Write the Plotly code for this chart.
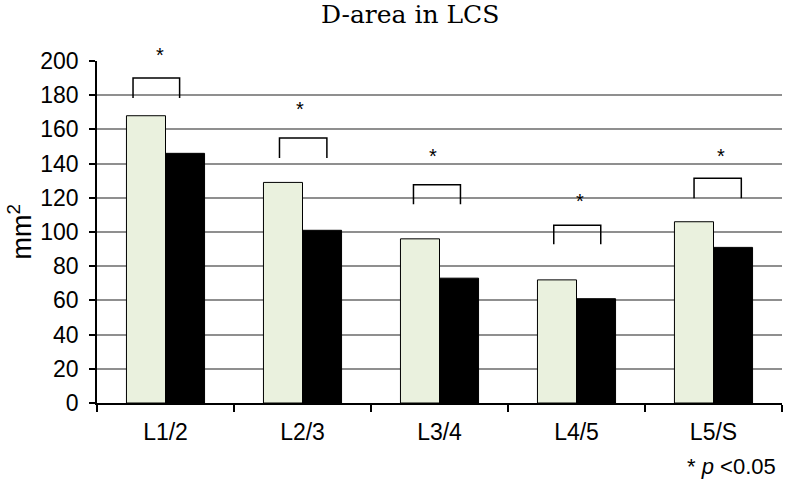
import plotly.graph_objects as go

categories = ["L1/2", "L2/3", "L3/4", "L4/5", "L5/S"]
group_a = [168, 129, 96, 72, 106]
group_b = [146, 101, 73, 61, 91]
y_ticks = [0, 20, 40, 60, 80, 100, 120, 140, 160, 180, 200]
y_max = 200

# significance brackets (category-index units / value units)
bracket_left = [-0.237, 0.832, 1.810, 2.834, 3.858]
bracket_right = [0.103, 1.178, 2.153, 3.177, 4.203]
bracket_top = [190, 155, 127.7, 104, 131.4]
bracket_foot = [178.4, 143.3, 116.2, 92.8, 119.7]
star_x = [-0.038, 0.983, 1.956, 3.028, 4.055]
star_y = [205.8, 174, 147, 120.5, 147]

fig = go.Figure()
fig.add_trace(go.Bar(x=categories, y=group_a, marker=dict(color="#EAF1DE", line=dict(color="black", width=1)), showlegend=False))
fig.add_trace(go.Bar(x=categories, y=group_b, marker=dict(color="black", line=dict(color="black", width=1)), showlegend=False))

for xl, xr, yt, yf in zip(bracket_left, bracket_right, bracket_top, bracket_foot):
    fig.add_shape(type="path", xref="x", yref="y",
                  path=f"M {xl},{yf} L {xl},{yt} L {xr},{yt} L {xr},{yf}",
                  line=dict(color="black", width=1.5), layer="above")

for sx, sy in zip(star_x, star_y):
    fig.add_annotation(x=sx, y=sy / y_max, xref="x", yref="paper", text="*", showarrow=False,
                       font=dict(family="Liberation Sans", size=20, color="black"),
                       yanchor="middle", yshift=-4)

fig.add_annotation(x=0.457, y=(403 - 15) / 342, xref="paper", yref="paper", text="D-area in LCS",
                   showarrow=False, font=dict(family="DejaVu Serif", size=25, color="black"),
                   xanchor="center", yanchor="middle")
fig.add_annotation(x=-0.113, y=0.5, xref="paper", yref="paper", text="mm<sup>2</sup>", textangle=-90,
                   showarrow=False, font=dict(family="Liberation Sans", size=27, color="black"),
                   xanchor="center", yanchor="middle")
fig.add_annotation(x=0.994, y=-0.186, xref="paper", yref="paper", text="* <i>p</i> <0.05",
                   showarrow=False, font=dict(family="Liberation Sans", size=22, color="black"),
                   xanchor="right", yanchor="middle")

fig.update_layout(
    width=786, height=482,
    margin=dict(l=97, r=4, t=61, b=79),
    paper_bgcolor="white", plot_bgcolor="white",
    barmode="group", bargap=0.43, bargroupgap=0,
    font=dict(family="Liberation Sans", color="black"),
)
fig.update_xaxes(showline=True, linecolor="black", linewidth=1.5, ticks="outside", tickson="boundaries",
                 ticklen=7, tickcolor="black", tickwidth=1.5, tickfont=dict(size=23, color="black"),
                 ticklabelstandoff=8, showgrid=False)
fig.update_yaxes(range=[0, y_max], tickvals=y_ticks, showline=True, linecolor="black", linewidth=1.5,
                 ticks="outside", ticklen=6, tickcolor="black", tickwidth=1.5,
                 tickfont=dict(size=23, color="black"), ticklabelstandoff=6,
                 showgrid=True, gridcolor="#8f8f8f", gridwidth=1.5, zeroline=False)

fig.write_html("out.html", config={"displayModeBar": False})
with open("out.html", "r", encoding="utf-8") as f:
    html = f.read()
html = html.replace("<head>", "<head><style>html,body{margin:0;padding:0;}</style>", 1)
with open("out.html", "w", encoding="utf-8") as f:
    f.write(html)
